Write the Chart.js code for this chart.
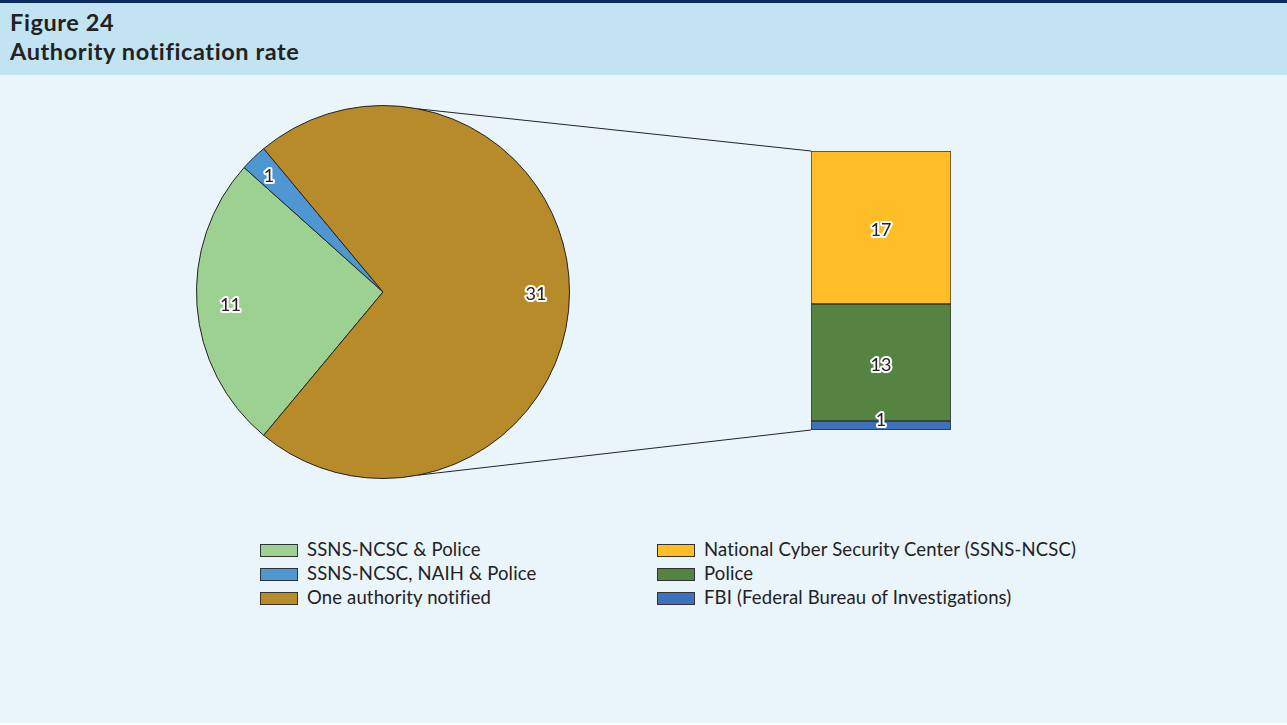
<!DOCTYPE html>
<html>
<head>
<meta charset="utf-8">
<script src="https://cdn.jsdelivr.net/npm/chart.js@4.4.0/dist/chart.umd.min.js"></script>
<style>
  body { margin: 0; width: 1287px; height: 725px; background: #ffffff; font-family: Lato, sans-serif; overflow: hidden; }
  #page { position: absolute; left: 0; top: 0; width: 1287px; height: 723px; background: #e9f4fb; }
  #topline { position: absolute; left: 0; top: 0; width: 1287px; height: 3px; background: #0b2b5b; }
  #header { position: absolute; left: 0; top: 3px; width: 1287px; height: 72px; background: #c2e4f2; }
  #header div { position: absolute; left: 10px; font-weight: bold; font-size: 23.5px; letter-spacing: 0.6px; color: #222; }
  #pieWrap { position: absolute; left: 0; top: 75px; width: 812px; height: 430px; }
  #barWrap { position: absolute; left: 800px; top: 140px; width: 170px; height: 300px; }
  .legend { position: absolute; font-size: 18.5px; letter-spacing: 0.15px; color: #222; }
  .legend .item { height: 24px; line-height: 24px; white-space: nowrap; }
  .legend .box { display: inline-block; width: 36px; height: 11px; border: 1px solid #333; vertical-align: middle; margin-right: 9px; position: relative; top: -1px; }
</style>
</head>
<body>
<div id="page">
  <div id="topline"></div>
  <div id="header">
    <div style="top:5px">Figure 24</div>
    <div style="top:34px">Authority notification rate</div>
  </div>
  <div id="pieWrap"><canvas id="pieChart"></canvas></div>
  <div id="barWrap"><canvas id="barChart"></canvas></div>
  <div class="legend" id="pieLegend" style="left:260px; top:537px;"></div>
  <div class="legend" id="barLegend" style="left:657px; top:537px;"></div>
</div>
<script>
// pie: how many authorities were notified
var pieLabels = ['SSNS-NCSC & Police', 'SSNS-NCSC, NAIH & Police', 'One authority notified'];
var pieValues = [11, 1, 31];
var pieColors = ['#9dd192', '#4e97d3', '#b78b29'];

// bar: which single authority (top to bottom in legend)
var barLabels = ['National Cyber Security Center (SSNS-NCSC)', 'Police', 'FBI (Federal Bureau of Investigations)'];
var barValues = [17, 13, 1];
var barColors = ['#ffbd27', '#548342', '#3d71bc'];

var labelFont = '18px Lato';

function haloText(ctx, txt, x, y) {
    ctx.save();
    ctx.font = labelFont;
    ctx.textAlign = 'center';
    ctx.textBaseline = 'middle';
    ctx.lineJoin = 'round';
    ctx.lineWidth = 4;
    ctx.strokeStyle = '#ffffff';
    ctx.strokeText(txt, x, y);
    ctx.fillStyle = '#222222';
    ctx.fillText(txt, x, y);
    ctx.restore();
}

// build html legends from the arrays
function buildLegend(id, labels, colors) {
    var el = document.getElementById(id);
    labels.forEach(function (l, i) {
        var d = document.createElement('div');
        d.className = 'item';
        d.innerHTML = '<span class="box" style="background:' + colors[i] + '"></span>' + l;
        el.appendChild(d);
    });
}
buildLegend('pieLegend', pieLabels, pieColors);
buildLegend('barLegend', barLabels, barColors);

// bar datasets are stacked bottom-up, so reverse
var barDatasets = [];
for (let i = barValues.length - 1; i >= 0; i--) {
    barDatasets.push({
        label: barLabels[i],
        data: [barValues[i]],
        backgroundColor: barColors[i],
        borderColor: '#333333',
        borderWidth: 1,
        borderSkipped: false,
        barPercentage: 1,
        categoryPercentage: 1
    });
}
var barTotal = barValues.reduce((a, b) => a + b, 0);

var barLabelPlugin = {
    id: 'barLabels',
    afterDatasetsDraw(chart) {
        var ctx = chart.ctx;
        chart.data.datasets.forEach(function (ds, i) {
            var bar = chart.getDatasetMeta(i).data[0];
            var h = bar.base - bar.y;
            // small segments: label sits a bit above, like the original
            var yy = h < 20 ? (bar.y + bar.base) / 2 - 5 : (bar.y + bar.base) / 2 + 3;
            haloText(ctx, String(ds.data[0]), bar.x, yy);
        });
    }
};

var barChart = new Chart(document.getElementById('barChart'), {
    type: 'bar',
    data: { labels: ['one'], datasets: barDatasets },
    options: {
        responsive: true,
        maintainAspectRatio: false,
        animation: false,
        layout: { padding: { left: 11, right: 19, top: 11, bottom: 10 } },
        scales: {
            x: { stacked: true, display: false },
            y: { stacked: true, display: false, min: 0, max: barTotal }
        },
        plugins: { legend: { display: false }, tooltip: { enabled: false } }
    },
    plugins: [barLabelPlugin]
});

var pieTotal = pieValues.reduce((a, b) => a + b, 0);
// big slice centred on 3 o'clock
var startRot = 90 + 180 * pieValues[2] / pieTotal;

var piePlugin = {
    id: 'pieExtras',
    afterDatasetsDraw(chart) {
        var ctx = chart.ctx;
        var arcs = chart.getDatasetMeta(0).data;
        arcs.forEach(function (a, i) {
            var mid = (a.startAngle + a.endAngle) / 2;
            var r = a.outerRadius * (pieValues[i] / pieTotal < 0.05 ? 0.88 : 0.82);
            haloText(ctx, String(pieValues[i]), a.x + Math.cos(mid) * r, a.y + Math.sin(mid) * r + 2);
        });
        // connector lines to the bar
        var a0 = arcs[0];
        var pr = chart.canvas.getBoundingClientRect();
        var br = barChart.canvas.getBoundingClientRect();
        var bx = barChart.chartArea.left + br.left - pr.left;
        var yTop = barChart.scales.y.getPixelForValue(barTotal) + br.top - pr.top;
        var yBot = barChart.scales.y.getPixelForValue(0) + br.top - pr.top;
        var ang = 79 * Math.PI / 180;
        ctx.save();
        ctx.strokeStyle = '#222222';
        ctx.lineWidth = 1;
        ctx.beginPath();
        ctx.moveTo(a0.x + Math.cos(-ang) * a0.outerRadius, a0.y + Math.sin(-ang) * a0.outerRadius);
        ctx.lineTo(bx, yTop);
        ctx.moveTo(a0.x + Math.cos(ang) * a0.outerRadius, a0.y + Math.sin(ang) * a0.outerRadius);
        ctx.lineTo(bx, yBot);
        ctx.stroke();
        ctx.restore();
    }
};

var pieChart = new Chart(document.getElementById('pieChart'), {
    type: 'pie',
    data: {
        labels: pieLabels,
        datasets: [{
            data: pieValues,
            backgroundColor: pieColors,
            borderColor: '#222222',
            borderWidth: 1
        }]
    },
    options: {
        responsive: true,
        maintainAspectRatio: false,
        animation: false,
        rotation: startRot,
        layout: { padding: { left: 196, right: 242, top: 30, bottom: 26 } },
        plugins: { legend: { display: false }, tooltip: { enabled: false } }
    },
    plugins: [piePlugin]
});
</script>
</body>
</html>
